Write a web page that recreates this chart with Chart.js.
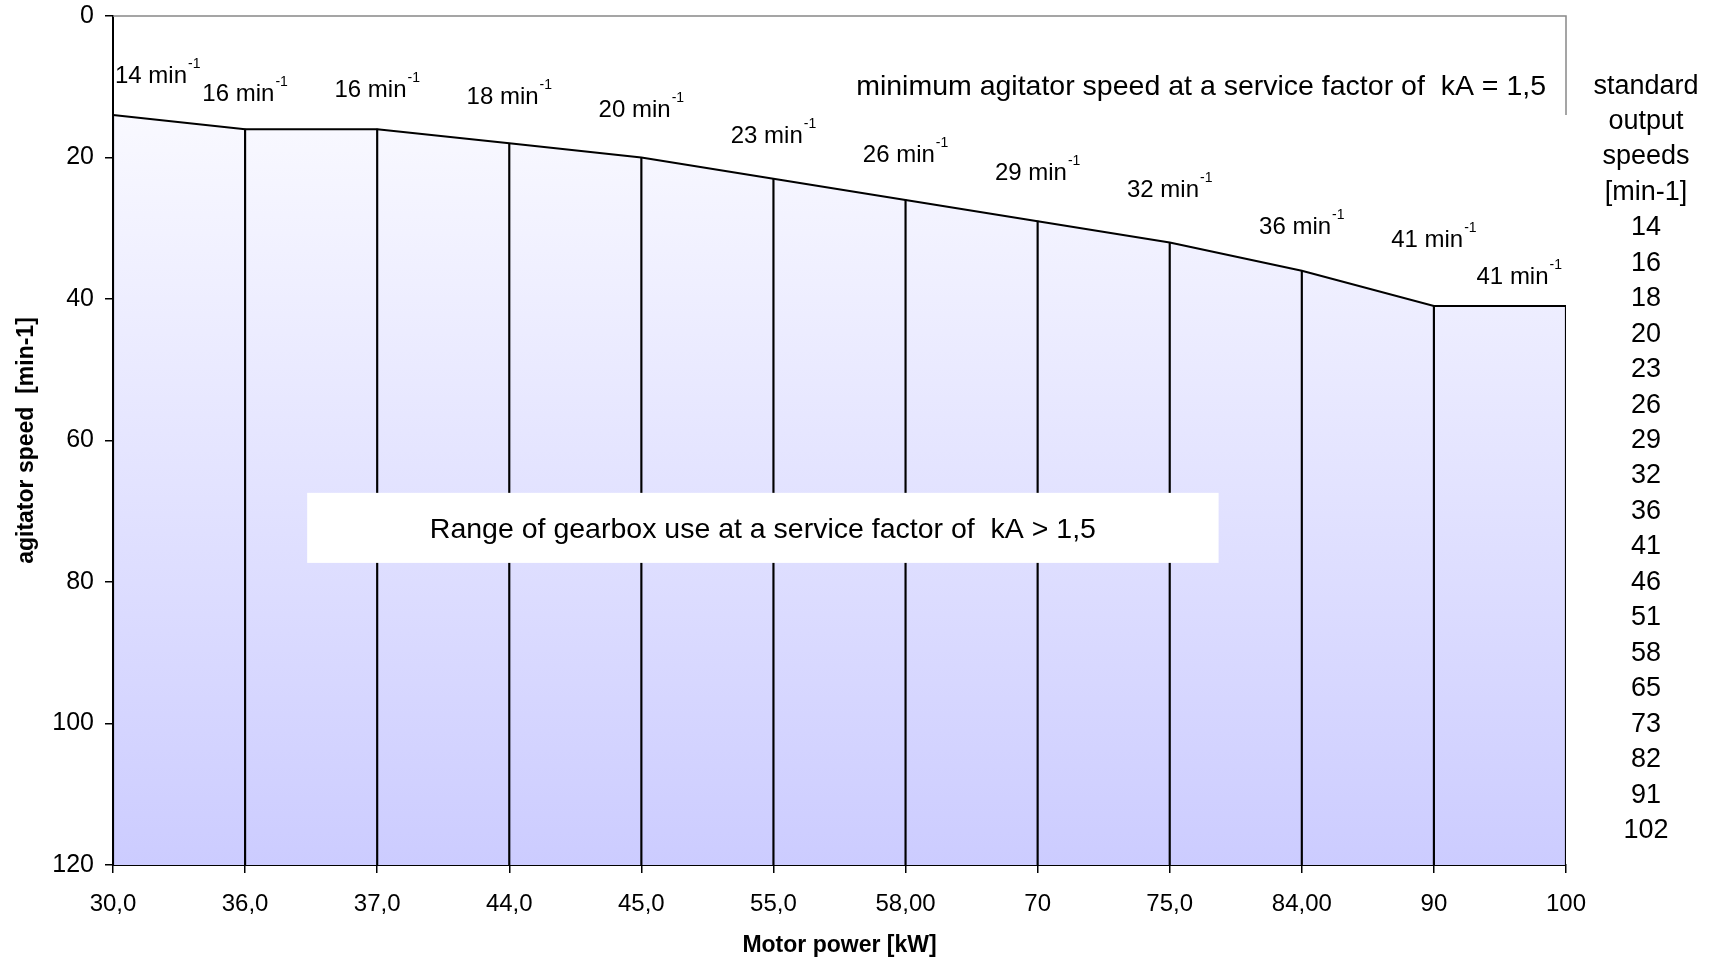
<!DOCTYPE html>
<html>
<head>
<meta charset="utf-8">
<title>Agitator speed vs motor power</title>
<script src="https://cdn.jsdelivr.net/npm/chart.js@4/dist/chart.umd.min.js"></script>
<style>
  html, body { margin: 0; padding: 0; background: #fff; }
  #wrap { width: 1713px; height: 961px; }
</style>
</head>
<body>
<div id="wrap"><canvas id="chart" width="1713" height="961"></canvas></div>
<script>
// motor power categories (x axis tick labels)
const motorPower = ['30,0', '36,0', '37,0', '44,0', '45,0', '55,0', '58,00', '70', '75,0', '84,00', '90', '100'];
// minimum agitator speed at kA = 1,5 [min-1]
const minSpeed = [14, 16, 16, 18, 20, 23, 26, 29, 32, 36, 41, 41];
// standard output speeds listed at the right
const standardSpeeds = [14, 16, 18, 20, 23, 26, 29, 32, 36, 41, 46, 51, 58, 65, 73, 82, 91, 102];
const speedHeader = ['standard', 'output', 'speeds', '[min-1]'];
const yTicks = { min: 0, max: 120, step: 20 };

const FONT = 'Liberation Sans, Arial, sans-serif';
Chart.defaults.font.family = FONT;
Chart.defaults.color = '#000';

// how far each speed label sits above its point (px)
const labelRise = [32, 28, 32, 39, 41, 36, 38, 41, 45, 37, 59, 22];

function areaGradient(context) {
    const chart = context.chart;
    const area = chart.chartArea;
    if (!area) return 'rgba(204,204,255,0.5)';
    const g = chart.ctx.createLinearGradient(0, area.top, 0, area.bottom);
    g.addColorStop(0, '#ffffff');
    g.addColorStop(1, '#ccccff');
    return g;
}

const decorations = {
    id: 'decorations',
    beforeDatasetsDraw(chart) {
        const { ctx, chartArea: a, scales: { y } } = chart;
        // grey frame: top edge and upper part of the right edge
        ctx.save();
        ctx.strokeStyle = '#888';
        ctx.lineWidth = 1.5;
        ctx.beginPath();
        ctx.moveTo(a.left, a.top);
        ctx.lineTo(a.right, a.top);
        ctx.lineTo(a.right, y.getPixelForValue(minSpeed[0]));
        ctx.stroke();
        ctx.restore();
    },
    afterDatasetsDraw(chart, args, opts) {
        const { ctx, chartArea: a, scales: { x, y } } = chart;
        const meta = chart.getDatasetMeta(0);
        ctx.save();
        ctx.fillStyle = '#000';
        ctx.textBaseline = 'alphabetic';

        // speed labels with superscript -1
        meta.data.forEach((pt, i) => {
            const main = minSpeed[i] + ' min';
            ctx.font = '24px ' + FONT;
            const wMain = ctx.measureText(main).width;
            ctx.font = '14px ' + FONT;
            const wSup = ctx.measureText('-1').width;
            const total = wMain + 1 + wSup;
            let left;
            if (i === 0) left = pt.x + 2;
            else if (i === meta.data.length - 1) left = pt.x - 4 - total;
            else left = pt.x - total / 2;
            const base = pt.y - labelRise[i];
            ctx.textAlign = 'left';
            ctx.font = '24px ' + FONT;
            ctx.fillText(main, left, base);
            ctx.font = '14px ' + FONT;
            ctx.fillText('-1', left + wMain + 1, base - 15);
        });

        // top note
        ctx.font = '28.5px ' + FONT;
        ctx.textAlign = 'right';
        ctx.fillText('minimum agitator speed at a service factor of  kA = 1,5', a.right - 20, 95);

        // white box with range note
        const b = opts.box;
        const bx0 = x.getPixelForValue(b.x0), bx1 = x.getPixelForValue(b.x1);
        const by0 = y.getPixelForValue(b.y0), by1 = y.getPixelForValue(b.y1);
        ctx.fillStyle = '#fff';
        ctx.fillRect(bx0, by0, bx1 - bx0, by1 - by0);
        ctx.fillStyle = '#000';
        ctx.textAlign = 'center';
        ctx.fillText('Range of gearbox use at a service factor of  kA > 1,5', (bx0 + bx1) / 2, (by0 + by1) / 2 + 10);

        // standard output speeds column
        ctx.font = '27px ' + FONT;
        const rows = speedHeader.concat(standardSpeeds.map(String));
        const cx = a.right + 80;
        rows.forEach((t, i) => ctx.fillText(t, cx, 93.5 + i * 35.45));
        ctx.restore();
    }
};

new Chart(document.getElementById('chart'), {
    type: 'line',
    data: {
        labels: motorPower,
        datasets: [
            {
                label: 'minimum agitator speed',
                data: minSpeed,
                borderColor: '#000',
                borderWidth: 2,
                pointRadius: 0,
                tension: 0,
                fill: { value: yTicks.max },
                backgroundColor: areaGradient,
                order: 1
            },
            {
                type: 'bar',
                label: 'drop lines',
                data: minSpeed.map(v => [v, yTicks.max]),
                backgroundColor: '#000',
                borderWidth: 0,
                barThickness: 1.5,
                order: 0
            }
        ]
    },
    options: {
        responsive: false,
        devicePixelRatio: 1,
        animation: false,
        layout: { padding: { top: 16, right: 147, bottom: 0, left: 0 } },
        scales: {
            x: {
                type: 'category',
                offset: false,
                grid: { offset: false, drawOnChartArea: false, tickLength: 8, color: '#000', lineWidth: 1.5 },
                border: { color: '#000', width: 2 },
                ticks: { font: { size: 24 }, color: '#000', padding: 17, maxRotation: 0, autoSkip: false },
                title: {
                    display: true,
                    text: 'Motor power [kW]',
                    font: { size: 23, weight: 'bold' },
                    color: '#000',
                    padding: { top: 0, bottom: 2 }
                },
                afterFit: s => { s.height = 96; }
            },
            y: {
                reverse: true,
                min: yTicks.min,
                max: yTicks.max,
                grid: { drawOnChartArea: false, tickLength: 8, color: '#000', lineWidth: 1.5 },
                border: { color: '#000', width: 2 },
                ticks: { stepSize: yTicks.step, font: { size: 25 }, color: '#000', padding: 11 },
                title: {
                    display: true,
                    text: 'agitator speed  [min-1]',
                    font: { size: 23, weight: 'bold' },
                    color: '#000',
                    padding: { top: 13, bottom: 0 }
                },
                afterFit: s => {
                    s.width = 113;
                    s.paddingTop = 0;
                    s.paddingBottom = 0;
                }
            }
        },
        plugins: {
            legend: { display: false },
            tooltip: { enabled: false },
            decorations: { box: { x0: 1.47, x1: 8.37, y0: 67.4, y1: 77.3 } }
        }
    },
    plugins: [decorations]
});
</script>
</body>
</html>
